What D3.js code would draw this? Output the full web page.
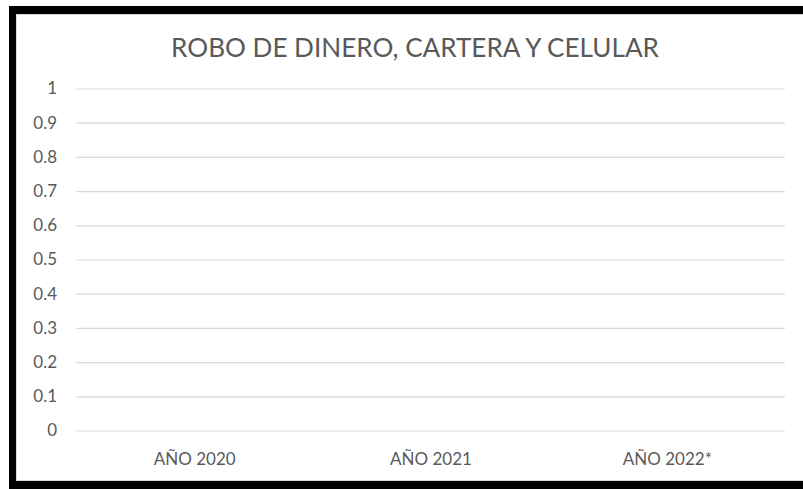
<!DOCTYPE html>
<html>
<head>
<meta charset="utf-8">
<script src="https://cdn.jsdelivr.net/npm/d3@7/dist/d3.min.js"></script>
<style>
  html, body { margin: 0; padding: 0; background: #fff; }
  svg { display: block; }
  text { font-family: Lato, "Open Sans", sans-serif; fill: #595959; }
</style>
</head>
<body>
<script>
// Chart content
const chartTitle = "ROBO DE DINERO, CARTERA Y CELULAR";
const categories = ["AÑO 2020", "AÑO 2021", "AÑO 2022*"];
// No cases recorded for any year: the series is empty
const seriesValues = [null, null, null];
const yTicks = [0, 0.1, 0.2, 0.3, 0.4, 0.5, 0.6, 0.7, 0.8, 0.9, 1];
const yTickLabels = ["0", "0.1", "0.2", "0.3", "0.4", "0.5", "0.6", "0.7", "0.8", "0.9", "1"];

const W = 803, H = 489;
const svg = d3.select("body").append("svg").attr("width", W).attr("height", H);

// Thick black frame around the chart area
svg.append("rect").attr("x", 9).attr("y", 6).attr("width", W).attr("height", H)
  .attr("fill", "#000");
svg.append("rect").attr("x", 16.5).attr("y", 14.5).attr("width", W).attr("height", 466)
  .attr("fill", "#fff").attr("stroke", "#d9d9d9").attr("stroke-width", 1);

const plot = { left: 76, right: 785, top: 88.5, bottom: 430.5 };

const x = d3.scaleBand().domain(categories).range([plot.left, plot.right]).paddingInner(0.3).paddingOuter(0.15);
const xCenter = d3.scalePoint().domain(categories).range([plot.left, plot.right]).padding(0.5);
const y = d3.scaleLinear().domain([0, 1]).range([plot.bottom, plot.top]);

// Horizontal gridlines and y labels
const yAxis = d3.axisLeft(y).tickValues(yTicks)
  .tickSize(-(plot.right - plot.left)).tickPadding(19)
  .tickFormat((d, i) => yTickLabels[i]);
const gy = svg.append("g").attr("transform", `translate(${plot.left},0)`).call(yAxis);
gy.select(".domain").remove();
gy.selectAll(".tick line").attr("stroke", "#d9d9d9").attr("stroke-width", 1.2);
gy.selectAll(".tick text").attr("font-size", 17).attr("fill", "#595959")
  .attr("font-family", "Lato, 'Open Sans', sans-serif");

// Category labels
const xAxis = d3.axisBottom(xCenter).tickSize(0).tickPadding(0);
const gx = svg.append("g").attr("transform", `translate(0,${plot.bottom})`).call(xAxis);
gx.select(".domain").remove();
gx.selectAll(".tick text").attr("font-size", 17).attr("fill", "#595959")
  .attr("font-family", "Lato, 'Open Sans', sans-serif")
  .attr("dy", null).attr("y", 34.5);

// Bars (only for years with recorded values)
svg.append("g").selectAll("rect")
  .data(categories.map((c, i) => ({ c, v: seriesValues[i] })).filter(d => d.v != null))
  .join("rect")
  .attr("x", d => x(d.c)).attr("width", x.bandwidth())
  .attr("y", d => y(d.v)).attr("height", d => y(0) - y(d.v))
  .attr("fill", "#4472c4");

// Title
const title = svg.append("text")
  .attr("x", 415).attr("y", 57)
  .attr("text-anchor", "middle")
  .attr("font-size", 28)
  .text(chartTitle);
const tw = title.node().getComputedTextLength();
title.attr("font-size", 28 * 488 / tw);
</script>
</body>
</html>
